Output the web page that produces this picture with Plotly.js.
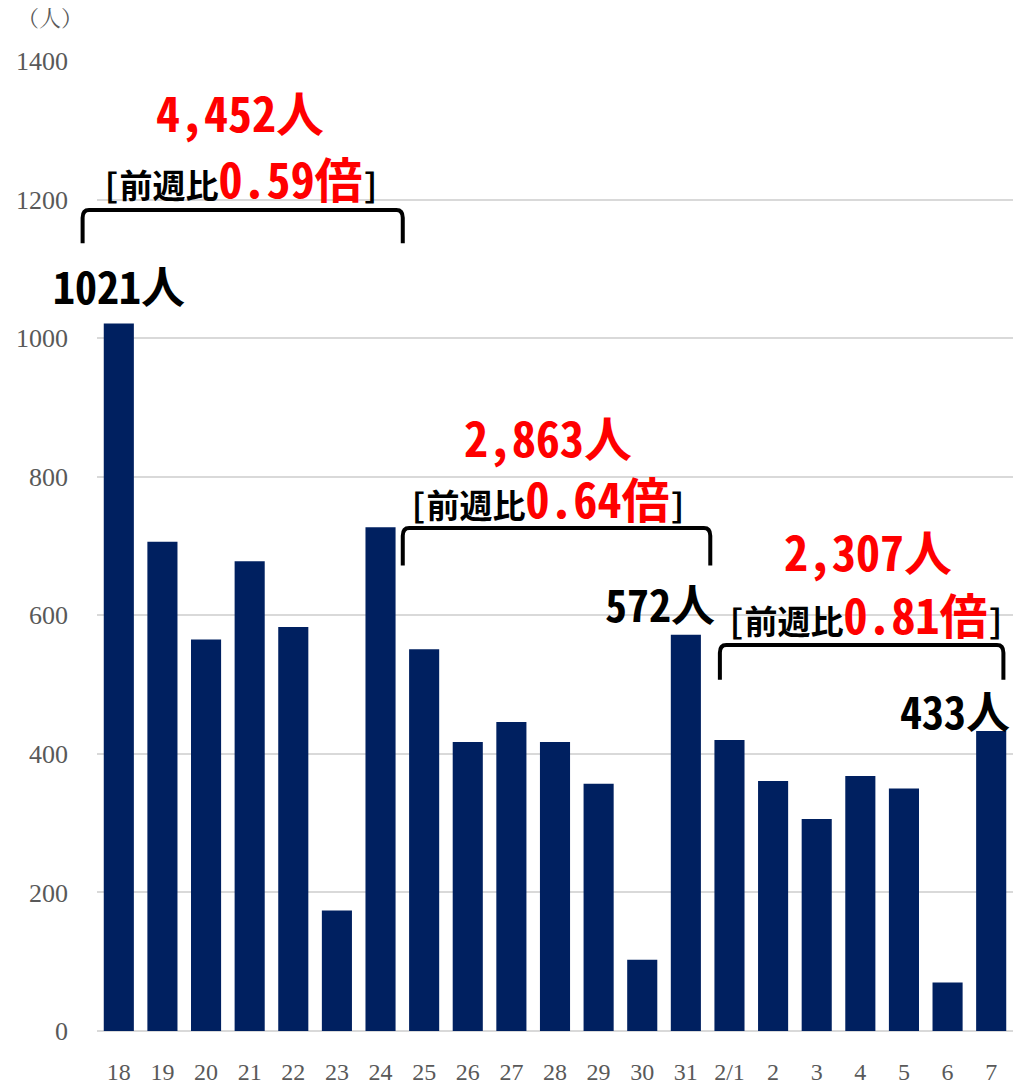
<!DOCTYPE html>
<html>
<head>
<meta charset="utf-8">
<script src="https://cdn.plot.ly/plotly-3.0.1.min.js"></script>
<style>html,body{margin:0;padding:0;background:#fff;}#chart{width:1014px;height:1086px;}</style>
</head>
<body>
<div id="chart"></div>
<script>
// ---- data ----
const categories = ["18","19","20","21","22","23","24","25","26","27","28","29","30","31","2/1","2","3","4","5","6","7"];
const cases = [1021,706,565,678,583,174,727,551,417,446,417,357,103,572,420,361,306,368,350,70,433];
const weekTotals = ["4,452人","2,863人","2,307人"];
const weekRatios = ["0.59","0.64","0.81"];
const peakLabels = ["1021人","572人","433人"];

// ---- styling / placement ----
const BAR = "#002060";
const RED = "#FF0000";
const GOTHIC = "Noto Sans Mono CJK JP, Noto Sans CJK JP, sans-serif";
const SERIF = "Liberation Serif, Noto Serif CJK JP, Noto Sans CJK JP, serif";
const YMAX = 1400;
const NCAT = categories.length;

// placement of week groups (x in category index units, y in value units)
const groups = [
  {bx0:-0.83, bx1:6.51, byb:1137, byt:1185, tx:2.78, ty:1328, rx:2.8, ry:1232, px:0.0, py:1077},
  {bx0:6.51, bx1:13.56, byb:672, byt:726, tx:9.84, ty:859, rx:9.84, ry:771, px:12.41, py:618},
  {bx0:13.78, bx1:20.28, byb:507, byt:557, tx:17.18, ty:694, rx:17.13, ry:603, px:19.17, py:463}
];
// convert to paper coordinates (so the bracket is not clipped by the plot area)
const px = i => (i + 0.5) / NCAT;
const py = v => v / YMAX;

const shapes = [];
const annotations = [];
groups.forEach((g, i) => {
  const x0 = px(g.bx0), x1 = px(g.bx1), yb = py(g.byb), yt = py(g.byt);
  const cx = 0.007, cy = 0.008;
  shapes.push({
    type: "path", xref: "paper", yref: "paper",
    path: `M ${x0},${yb} L ${x0},${yt-cy} Q ${x0},${yt} ${x0+cx},${yt} L ${x1-cx},${yt} Q ${x1},${yt} ${x1},${yt-cy} L ${x1},${yb}`,
    line: {color: "#000", width: 4}
  });
  annotations.push({
    x: g.tx, y: g.ty, xref: "x", yref: "y", showarrow: false,
    text: weekTotals[i], font: {family: GOTHIC, size: 48, color: RED, weight: 700}
  });
  annotations.push({
    x: g.rx, y: g.ry, xref: "x", yref: "y", showarrow: false,
    text: `[前週比<span style="color:${RED};font-size:48px">${weekRatios[i]}倍</span>]`,
    font: {family: GOTHIC, size: 33, color: "#000", weight: 700}
  });
  annotations.push({
    x: g.px, y: g.py, xref: "x", yref: "y", showarrow: false,
    text: peakLabels[i], font: {family: GOTHIC, size: 44, color: "#000", weight: 700}
  });
});
annotations.push({
  x: -0.089, y: 1.0588, xref: "paper", yref: "paper", showarrow: false,
  text: "（人）", font: {family: SERIF, size: 22, color: "#595959"}
});

const trace = {
  type: "bar",
  x: categories,
  y: cases,
  marker: {color: BAR},
  hoverinfo: "x+y"
};

const layout = {
  width: 1014, height: 1086,
  margin: {l: 97, r: 1, t: 61, b: 55, autoexpand: false},
  paper_bgcolor: "#fff", plot_bgcolor: "#fff",
  bargap: 0.31,
  showlegend: false,
  xaxis: {
    type: "category", automargin: false, range: [-0.5, NCAT - 0.5], autorange: false,
    tickfont: {family: SERIF, size: 24, color: "#595959"},
    ticks: "", showgrid: false, showline: false, zeroline: false,
    ticklabelstandoff: 24
  },
  yaxis: {
    range: [0, YMAX], autorange: false, tickvals: [0,200,400,600,800,1000,1200,1400], automargin: false,
    tickfont: {family: SERIF, size: 26, color: "#595959"},
    showgrid: true, gridcolor: "#d9d9d9", gridwidth: 2,
    zeroline: true, zerolinecolor: "#d9d9d9", zerolinewidth: 2,
    ticks: "", showline: false, ticklabelstandoff: 28
  },
  shapes: shapes,
  annotations: annotations
};

Plotly.newPlot("chart", [trace], layout, {displayModeBar: false, staticPlot: true});
</script>
</body>
</html>
